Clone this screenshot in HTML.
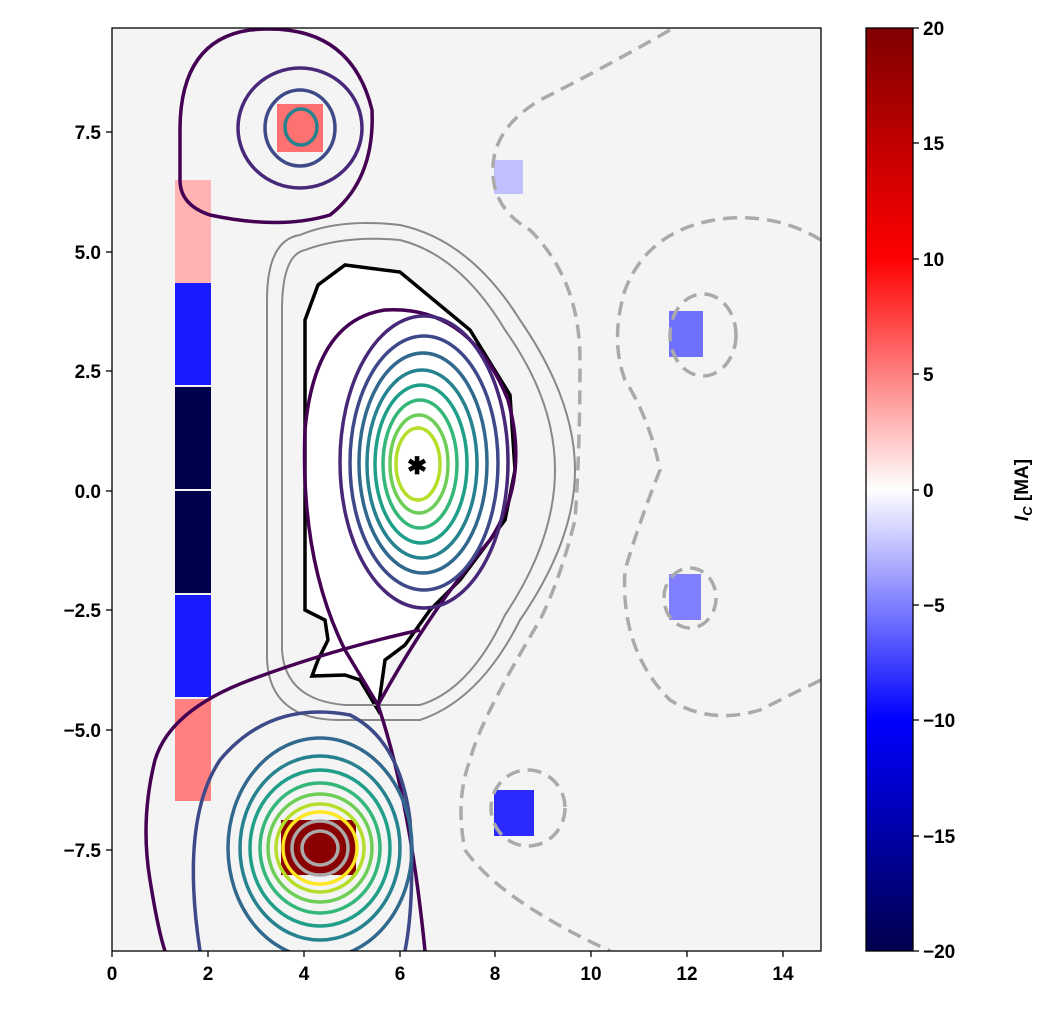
<!DOCTYPE html>
<html><head><meta charset="utf-8"><style>
body{margin:0;background:#fff}
svg text{font-family:"Liberation Sans",sans-serif;font-weight:bold;font-size:19px;fill:#000}
</style></head><body>
<svg width="1057" height="1019" viewBox="0 0 1057 1019" xmlns="http://www.w3.org/2000/svg">
<defs>
<linearGradient id="cb" x1="0" y1="0" x2="0" y2="1">
<stop offset="0" stop-color="#800000"/>
<stop offset="0.25" stop-color="#ff0000"/>
<stop offset="0.5" stop-color="#ffffff"/>
<stop offset="0.75" stop-color="#0000ff"/>
<stop offset="1" stop-color="#00004c"/>
</linearGradient>
<clipPath id="cp"><rect x="112" y="28" width="709" height="923"/></clipPath>
</defs>
<rect x="112" y="28" width="709" height="923" fill="#f4f4f4"/>
<g clip-path="url(#cp)">
<rect x="175" y="180" width="36" height="103" fill="#ffb3b3"/>
<rect x="175" y="283" width="36" height="102" fill="#1a1aff"/>
<rect x="175" y="387" width="36" height="102" fill="#00004c"/>
<rect x="175" y="491" width="36" height="102" fill="#00004c"/>
<rect x="175" y="595" width="36" height="102" fill="#1a1aff"/>
<rect x="175" y="699" width="36" height="102" fill="#ff8080"/>
<rect x="277" y="104" width="46" height="48" fill="#ff7070"/>
<rect x="494" y="160" width="29" height="34" fill="#c0c0ff"/>
<rect x="669" y="311" width="34" height="46" fill="#7070ff"/>
<rect x="669" y="574" width="32" height="46" fill="#8080ff"/>
<rect x="494" y="790" width="40" height="46" fill="#2a2aff"/>
<rect x="281" y="820" width="75" height="55" fill="#8b0000"/>
<path d="M305,610 L305,320 L318,285 L345,265 L400,272 L470,330 L510,395 L515,470 L505,520 L460,580 L430,610 L405,645 L385,660 L378,710 L360,680 L345,675 L312,676 L318,660 L328,640 L325,620 Z" fill="#fff" stroke="#000" stroke-width="3.5"/>
<path d="M300,235 Q267,240 267,300 L267,660 Q270,720 340,720 L420,720 Q480,700 520,620 Q575,540 575,470 Q575,400 520,320 Q470,240 400,225 Q340,218 300,235 Z" fill="none" stroke="#888" stroke-width="2"/>
<path d="M305,250 Q282,255 282,310 L282,650 Q285,700 345,705 L420,705 Q470,690 505,615 Q555,540 555,470 Q555,400 505,330 Q460,255 400,240 Q345,235 305,250 Z" fill="none" stroke="#888" stroke-width="2"/>
<g fill="none" stroke="#440154" stroke-width="3.5">
<path d="M378,705 L345,650 Q300,560 305,430 Q315,320 385,310 Q470,305 508,400 Q530,480 490,540 Q430,610 378,705 Z"/>
<path d="M378,705 Q410,800 425,951"/>
<path d="M420,630 Q330,650 250,680 Q170,710 155,760 Q140,820 150,880 Q158,930 165,951"/>
<path d="M180,130 Q180,40 250,30 Q350,20 372,110 Q375,180 330,215 Q280,230 210,215 Q180,205 180,180 Z"/>
</g>
<g fill="none" stroke-width="3.5">
<ellipse cx="424" cy="462" rx="84" ry="146" stroke="#482878"/>
<ellipse cx="424" cy="463" rx="74" ry="127" stroke="#3e4989"/>
<ellipse cx="423" cy="463" rx="64" ry="110" stroke="#31688e"/>
<ellipse cx="422" cy="464" rx="55" ry="94" stroke="#26828e"/>
<ellipse cx="421" cy="464" rx="46" ry="79" stroke="#1f9e89"/>
<ellipse cx="420" cy="464" rx="37" ry="64" stroke="#35b779"/>
<ellipse cx="419" cy="464" rx="29" ry="49" stroke="#6ece58"/>
<ellipse cx="418" cy="464" rx="22" ry="36" stroke="#b5de2b"/>
</g>
<text x="407" y="474" style="font-size:24px">✱</text>
<g fill="none" stroke-width="3.5">
<ellipse cx="300" cy="128" rx="62" ry="60" stroke="#482878"/>
<ellipse cx="300" cy="128" rx="35" ry="38" stroke="#3e4989"/>
<ellipse cx="301" cy="127" rx="16" ry="18" stroke="#26828e"/>
</g>
<g fill="none" stroke-width="3.5">
<path d="M200,951 Q180,820 220,760 Q270,700 350,715 Q400,740 410,820 Q415,900 405,951" stroke="#3e4989"/>
<ellipse cx="320" cy="848" rx="92" ry="110" stroke="#31688e"/>
<ellipse cx="320" cy="848" rx="80" ry="92" stroke="#26828e"/>
<ellipse cx="320" cy="848" rx="70" ry="78" stroke="#1f9e89"/>
<ellipse cx="320" cy="848" rx="60" ry="65" stroke="#35b779"/>
<ellipse cx="320" cy="848" rx="52" ry="54" stroke="#6ece58"/>
<ellipse cx="320" cy="848" rx="44" ry="44" stroke="#b5de2b"/>
<ellipse cx="320" cy="848" rx="37" ry="36" stroke="#fde725"/>
<ellipse cx="320" cy="848" rx="28" ry="27" stroke="#aaa"/>
<ellipse cx="320" cy="848" rx="18" ry="17" stroke="#aaa"/>
</g>
<g fill="none" stroke="#aaa" stroke-width="3.5" stroke-dasharray="14,8">
<path d="M670,30 Q600,70 540,100 Q490,130 493,175 Q495,210 530,230 Q580,280 580,360 Q580,450 575,520 Q560,580 540,620 Q480,720 470,760 Q455,800 465,850 Q500,900 610,951"/>
<path d="M821,240 Q780,215 730,218 Q650,225 625,290 Q610,340 625,380 Q650,420 660,470 Q640,520 625,570 Q620,650 670,700 Q710,725 760,710 Q800,690 821,680"/>
<ellipse cx="703" cy="335" rx="33" ry="41"/>
<ellipse cx="690" cy="598" rx="26" ry="30"/>
<ellipse cx="528" cy="808" rx="37" ry="38"/>
</g>
</g>
<rect x="112" y="28" width="709" height="923" fill="none" stroke="#000" stroke-width="1.3"/>
<g stroke="#000" stroke-width="1.3">
<line x1="112" y1="951" x2="112" y2="957"/><line x1="208" y1="951" x2="208" y2="957"/><line x1="304" y1="951" x2="304" y2="957"/><line x1="400" y1="951" x2="400" y2="957"/><line x1="495" y1="951" x2="495" y2="957"/><line x1="591" y1="951" x2="591" y2="957"/><line x1="687" y1="951" x2="687" y2="957"/><line x1="783" y1="951" x2="783" y2="957"/>
<line x1="106" y1="132" x2="112" y2="132"/><line x1="106" y1="252" x2="112" y2="252"/><line x1="106" y1="371" x2="112" y2="371"/><line x1="106" y1="491" x2="112" y2="491"/><line x1="106" y1="610" x2="112" y2="610"/><line x1="106" y1="730" x2="112" y2="730"/><line x1="106" y1="850" x2="112" y2="850"/>
</g>
<g text-anchor="middle">
<text x="112" y="980">0</text><text x="208" y="980">2</text><text x="304" y="980">4</text><text x="400" y="980">6</text><text x="495" y="980">8</text><text x="591" y="980">10</text><text x="687" y="980">12</text><text x="783" y="980">14</text>
</g>
<g text-anchor="end">
<text x="101" y="139">7.5</text><text x="101" y="259">5.0</text><text x="101" y="378">2.5</text><text x="101" y="498">0.0</text><text x="101" y="617">−2.5</text><text x="101" y="737">−5.0</text><text x="101" y="857">−7.5</text>
</g>
<rect x="866" y="28" width="47" height="923" fill="url(#cb)" stroke="#000" stroke-width="1.3"/>
<g stroke="#000" stroke-width="1.3">
<line x1="913" y1="28" x2="919" y2="28"/><line x1="913" y1="143" x2="919" y2="143"/><line x1="913" y1="259" x2="919" y2="259"/><line x1="913" y1="374" x2="919" y2="374"/><line x1="913" y1="490" x2="919" y2="490"/><line x1="913" y1="605" x2="919" y2="605"/><line x1="913" y1="720" x2="919" y2="720"/><line x1="913" y1="836" x2="919" y2="836"/><line x1="913" y1="951" x2="919" y2="951"/>
</g>
<g>
<text x="923" y="35">20</text><text x="923" y="150">15</text><text x="923" y="266">10</text><text x="923" y="381">5</text><text x="923" y="497">0</text><text x="923" y="612">−5</text><text x="923" y="727">−10</text><text x="923" y="843">−15</text><text x="923" y="958">−20</text>
</g>
<text transform="translate(1028,490) rotate(-90)" text-anchor="middle"><tspan font-style="italic">I</tspan><tspan font-style="italic" font-size="13" dy="4">C</tspan><tspan dy="-4"> [MA]</tspan></text>
</svg>
</body></html>
